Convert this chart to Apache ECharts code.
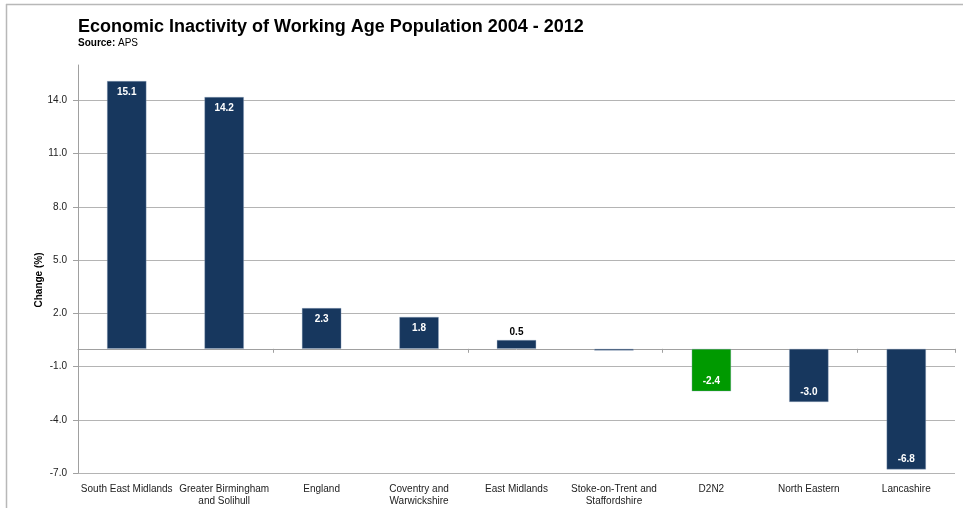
<!DOCTYPE html>
<html>
<head>
<meta charset="utf-8">
<title>Economic Inactivity of Working Age Population 2004 - 2012</title>
<script src="https://cdn.jsdelivr.net/npm/echarts@6/dist/echarts.min.js"></script>
<style>
  html, body { margin: 0; padding: 0; background: #ffffff; }
  #chart { width: 963px; height: 508px; }
</style>
</head>
<body>
<div id="chart"></div>
<script>
// Areas (x axis categories)
const areas = [
  'South East Midlands',
  'Greater Birmingham\nand Solihull',
  'England',
  'Coventry and\nWarwickshire',
  'East Midlands',
  'Stoke-on-Trent and\nStaffordshire',
  'D2N2',
  'North Eastern',
  'Lancashire'
];
// Change in economic inactivity, 2004 - 2012 (%)
const changePct = [15.1, 14.2, 2.3, 1.8, 0.5, -0.1, -2.4, -3.0, -6.8];
// Area highlighted in green
const highlightArea = 'D2N2';
// Value axis range and step
const yMin = -7;
const yMax = 16;
const yStep = 3;

const FONT = '"Liberation Sans", Arial, sans-serif';
const NAVY = '#17375E';
const GREEN = '#009A00';
const GRID = '#b4b4b4';

const barData = changePct.map(function (v, i) {
  const item = {
    value: v,
    itemStyle: { color: areas[i] === highlightArea ? GREEN : NAVY }
  };
  if (Math.abs(v) < 0.3) {
    item.label = { show: false };
  } else if (v >= 0 && v < 1) {
    item.label = { position: 'top', color: '#000000', distance: 3 };
  } else if (v < 0) {
    item.label = { position: 'insideBottom', distance: 5 };
  }
  return item;
});

const chart = echarts.init(document.getElementById('chart'), null, { renderer: 'canvas' });

chart.setOption({
  backgroundColor: '#ffffff',
  animation: false,
  title: {
    text: 'Economic Inactivity of Working Age Population 2004 - 2012',
    subtext: '{b|Source:} APS',
    left: 73,
    top: 13,
    itemGap: 2,
    textStyle: { fontFamily: FONT, fontSize: 18, fontWeight: 'bold', color: '#000000' },
    subtextStyle: {
      fontFamily: FONT, fontSize: 10, color: '#000000',
      rich: { b: { fontFamily: FONT, fontSize: 10, fontWeight: 'bold', color: '#000000' } }
    }
  },
  graphic: [
    { type: 'line', shape: { x1: 6, y1: 4.5, x2: 963, y2: 4.5 }, style: { stroke: '#b8b8b8', lineWidth: 1.5 }, silent: true },
    { type: 'line', shape: { x1: 6.5, y1: 4, x2: 6.5, y2: 508 }, style: { stroke: '#b8b8b8', lineWidth: 1.5 }, silent: true }
  ],
  grid: { left: 78, right: 8, top: 65, bottom: 35, containLabel: false },
  xAxis: [
    {
      type: 'category',
      data: areas,
      position: 'bottom',
      axisLine: { show: true, onZero: true, lineStyle: { color: '#a0a0a0', width: 1 } },
      axisTick: { show: true, length: 4, alignWithLabel: false, lineStyle: { color: '#a0a0a0' } },
      axisLabel: { show: false },
      splitLine: { show: false }
    },
    {
      type: 'category',
      data: areas,
      position: 'bottom',
      axisLine: { show: false, onZero: false },
      axisTick: { show: false },
      axisLabel: {
        show: true, interval: 0, margin: 10,
        fontFamily: FONT, fontSize: 10, color: '#222222', lineHeight: 12, align: 'center'
      },
      splitLine: { show: false }
    }
  ],
  yAxis: {
    type: 'value',
    min: yMin,
    max: yMax,
    interval: yStep,
    name: 'Change (%)',
    nameLocation: 'middle',
    nameRotate: 90,
    nameGap: 34,
    nameMoveOverlap: false,
    nameTextStyle: { fontFamily: FONT, fontSize: 10, fontWeight: 'bold', color: '#000000', padding: [0, 22, 0, 0] },
    axisLine: { show: true, lineStyle: { color: '#a0a0a0', width: 1 } },
    axisTick: { show: true, length: 5, lineStyle: { color: '#a0a0a0' } },
    axisLabel: {
      margin: 11, fontFamily: FONT, fontSize: 10, color: '#222222',
      showMaxLabel: false,
      formatter: function (v) { return v.toFixed(1); }
    },
    splitLine: { show: true, showMinLine: true, showMaxLine: false, lineStyle: { color: GRID, width: 1.2 } }
  },
  series: [{
    type: 'bar',
    xAxisIndex: 0,
    data: barData,
    barWidth: '40.5%',
    itemStyle: { borderColor: 'rgba(150,170,195,0.6)', borderWidth: 0.6 },
    label: {
      show: true,
      position: 'insideTop',
      distance: 6,
      fontFamily: FONT, fontSize: 10, fontWeight: 'bold', color: '#ffffff',
      formatter: function (p) { return p.value.toFixed(1); }
    }
  }]
});
</script>
</body>
</html>
